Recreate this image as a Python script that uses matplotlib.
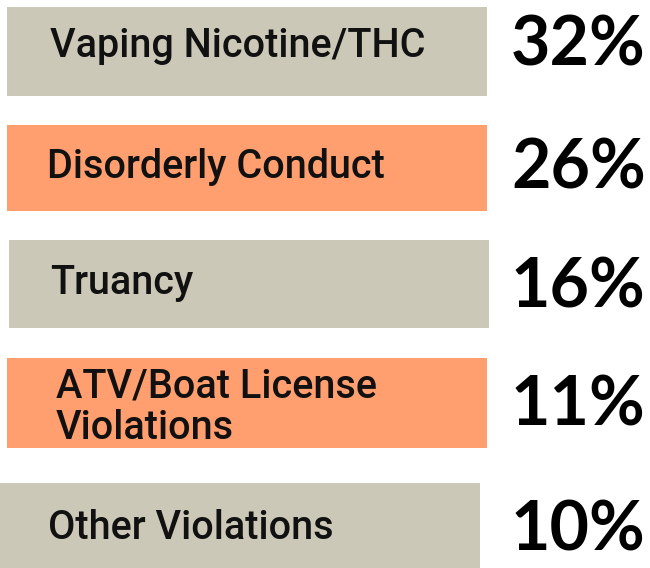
import matplotlib.pyplot as plt
from matplotlib import font_manager

# data
categories = ["Vaping Nicotine/THC", "Disorderly Conduct", "Truancy",
              "ATV/Boat License\nViolations", "Other Violations"]
percents = [32, 26, 16, 11, 10]
colors = ["#CBC8B7", "#FF9E6E", "#CBC8B7", "#FF9E6E", "#CBC8B7"]

# layout (pixels)
box_y = [51.5, 168, 284, 403, 525.5]
box_h = [89, 86, 88, 90, 85]
box_left = [7, 7, 9, 7, 0]
box_w = 480
label_x = [50, 47, 50, 56, 48]
label_y = [46, 167, 283, 407, 528]
pct_y = [46, 169, 288, 406, 531]

names = {f.name for f in font_manager.fontManager.ttflist}
label_font = [f for f in ["Liberation Sans Narrow", "DejaVu Sans Condensed", "Roboto"] if f in names] + ["DejaVu Sans"]
pct_font = [f for f in ["Lato", "Inter", "DejaVu Sans"] if f in names]

fig = plt.figure(figsize=(6.5, 5.68), dpi=100)
ax = fig.add_axes([0, 0, 1, 1])
ax.set_xlim(0, 650)
ax.set_ylim(568, 0)
ax.axis('off')

ax.barh(box_y, [box_w] * len(categories), left=box_left, height=box_h, color=colors)

for i, cat in enumerate(categories):
    ax.text(label_x[i], label_y[i], cat, ha='left', va='center', fontsize=28.5,
            family=label_font, fontweight='medium', color='#111111', linespacing=1.12)
    ax.text(511, pct_y[i], f"{percents[i]}%", ha='left', va='center', fontsize=49,
            family=pct_font, fontweight='bold', color='black')

fig.savefig("out.png", dpi=100)
